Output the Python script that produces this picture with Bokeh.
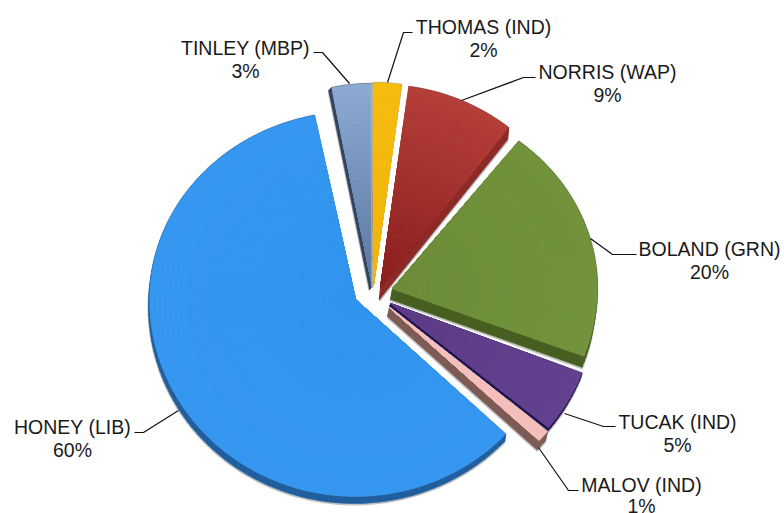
from bokeh.plotting import figure
from bokeh.models import Range1d
from bokeh.embed import file_html
from bokeh.resources import INLINE
from bokeh.core.properties import value
import math

# ---- data
names = ["TINLEY (MBP)", "THOMAS (IND)", "NORRIS (WAP)", "BOLAND (GRN)", "TUCAK (IND)", "MALOV (IND)", "HONEY (LIB)"]
shares = [3.2, 2.2, 8.4, 20.3, 5.2, 1.0, 60.0]
pct_labels = ["3%", "2%", "9%", "20%", "5%", "1%", "60%"]

# ---- styles and geometry, in reference pixels
start_angle = 101.5
apex_x = [372, 373, 380, 392, 390, 389, 355]
apex_y = [286, 284, 287, 288, 303, 307, 299]
rad_a = [205, 205, 208, 205, 205, 205, 206]
rad_up = [203, 202, 203, 187, 195, 195, 188]
rad_down = [203, 202, 203, 190, 195, 195, 197]
side_dx = [-3, -1, -1, -2, -1, -2, -1]
side_dy = [3, 2, 12, 11, 4, 9, 7]
col_apex = ["#5A789F", "#F0B40C", "#8A1E1E", "#6C8C38", "#5C3A86", "#F4BEBC", "#3094EE"]
col_rim = ["#8DAAD3", "#F6BC10", "#B53F39", "#72933B", "#62428F", "#F4BEBC", "#3597F0"]
col_side = ["#34445F", "#B8A98A", "#8C2A28", "#465F20", "#1E1450", "#7E5A55", "#1E5E9E"]
draw_order = [0, 1, 2, 4, 5, 3, 6]

label_x = [245, 483, 607, 709, 677, 641, 72]
label_y = [47, 26, 71, 248, 421, 484, 426]
pct_y = [70.5, 49.5, 94.5, 271.5, 444.5, 505, 449.5]
leader_x = [[313, 322, 349], [412, 403, 387], [535, 523, 461], [590, 612, 636], [564, 603, 615], [538, 568, 578], [178, 143, 134]]
leader_y = [[52, 52, 83], [32, 32, 82], [77, 77, 100], [238, 254, 254], [413, 426, 426], [447, 490, 490], [410, 432, 432]]

total = sum(shares)
spans = [s / total * 360 for s in shares]


def arc(i, t0, t1, frac=1.0, n=None):
    n = n or max(3, int(abs(t1 - t0) / 1.5))
    xs, ys = [], []
    for k in range(n + 1):
        t = math.radians(t0 + (t1 - t0) * k / n)
        s = math.sin(t)
        b = rad_up[i] if s >= 0 else rad_down[i]
        xs.append(apex_x[i] + frac * rad_a[i] * math.cos(t))
        ys.append(apex_y[i] - frac * b * s)
    return xs, ys


def mix(c0, c1, f):
    a = [int(c0[j:j + 2], 16) for j in (1, 3, 5)]
    b = [int(c1[j:j + 2], 16) for j in (1, 3, 5)]
    return "#%02x%02x%02x" % tuple(round(u + (v - u) * f) for u, v in zip(a, b))


p = figure(width=784, height=513, output_backend="svg", toolbar_location=None,
           x_range=Range1d(0, 784), y_range=Range1d(513, 0),
           min_border=0, outline_line_color=None)
p.axis.visible = False
p.grid.visible = False
p.background_fill_color = "white"
p.border_fill_color = "white"

xs_all, ys_all, fills, lines, widths = [], [], [], [], []


def add(x, y, fill, line=None, w=0.6):
    xs_all.append(x); ys_all.append(y); fills.append(fill); lines.append(line or fill); widths.append(w)


limits = []
t = start_angle
for sp in spans:
    limits.append((t, t - sp))
    t -= sp

for i in draw_order:
    t0, t1 = limits[i]
    ax, ay = apex_x[i], apex_y[i]
    rx, ry = arc(i, t0, t1)
    px = [ax] + rx
    py = [ay] + ry
    # soft grey halo
    add([x + side_dx[i] for x in px], [y + side_dy[i] + 1 for y in py], "#c4c4c4", "#c4c4c4", 2.0)
    add(px, py, "#c4c4c4", "#c4c4c4", 1.6)
    # extruded side
    m = len(px)
    for k in range(m):
        k2 = (k + 1) % m
        add([px[k], px[k2], px[k2] + side_dx[i], px[k] + side_dx[i]],
            [py[k], py[k2], py[k2] + side_dy[i], py[k] + side_dy[i]], col_side[i])
    # top surface in radial bands
    nb = 40
    for b in range(nb, 0, -1):
        f = b / nb
        x1, y1 = arc(i, t0, t1, f)
        add([ax] + x1, [ay] + y1, mix(col_apex[i], col_rim[i], (b - 0.5) / nb), None, 0.3)

p.patches(xs_all, ys_all, fill_color=fills, line_color=lines, line_width=widths)

p.multi_line(leader_x, leader_y, line_color="#111111", line_width=1.2)

font = value("Liberation Sans")
p.text(label_x, label_y, text=names, text_font=font, text_font_size="19.5px",
       text_color="#1a1a1a", text_align="center", text_baseline="middle")
p.text(label_x, pct_y, text=pct_labels, text_font=font, text_font_size="19.5px",
       text_color="#1a1a1a", text_align="center", text_baseline="middle")

open("out.html", "w").write(file_html(p, INLINE))
